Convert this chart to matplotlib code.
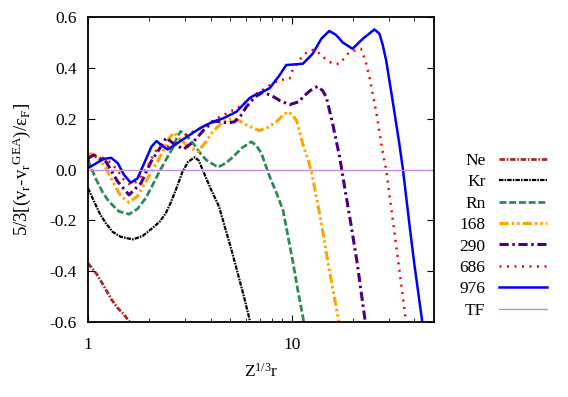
import matplotlib
matplotlib.use("Agg")
import matplotlib.pyplot as plt
import numpy as np

plt.rcParams["font.family"] = ["Liberation Serif", "DejaVu Serif"]
plt.rcParams["mathtext.fontset"] = "custom"
plt.rcParams["mathtext.rm"] = "Liberation Serif"
plt.rcParams["mathtext.it"] = "Liberation Serif:italic"

# values (x = Z^(1/3) r)
ne_x = [1.0, 1.1, 1.2, 1.3, 1.4, 1.5, 1.62]
ne_y = [-0.369, -0.41, -0.46, -0.51, -0.545, -0.57, -0.605]

kr_x = [1.0, 1.07, 1.14, 1.22, 1.32, 1.45, 1.66, 1.85, 2.07, 2.25, 2.41, 2.55,
        2.7, 2.91, 3.1, 3.34, 3.5, 3.65, 4.0, 4.4, 5.12, 5.83, 6.3]
kr_y = [-0.074, -0.125, -0.172, -0.21, -0.245, -0.265, -0.275, -0.262, -0.231,
        -0.205, -0.172, -0.13, -0.08, -0.009, 0.03, 0.048, 0.035, 0.0, -0.075,
        -0.146, -0.33, -0.50, -0.61]

rn_x = [1.0, 1.09, 1.18, 1.27, 1.42, 1.59, 1.75, 1.92, 2.08, 2.24, 2.42, 2.6,
        2.75, 2.85, 3.0, 3.28, 3.55, 3.81, 4.35, 4.75, 5.16, 5.7, 6.34, 6.7,
        7.1, 7.5, 7.8, 8.4, 9.07, 10.1, 10.7, 11.35, 11.5]
rn_y = [0.037, -0.035, -0.09, -0.127, -0.165, -0.176, -0.155, -0.113, -0.06,
        -0.009, 0.04, 0.083, 0.13, 0.15, 0.14, 0.103, 0.065, 0.037, 0.009,
        0.025, 0.05, 0.085, 0.109, 0.095, 0.064, 0.01, -0.028, -0.09, -0.16,
        -0.356, -0.47, -0.579, -0.61]

z168_x = [1.0, 1.05, 1.12, 1.225, 1.35, 1.45, 1.59, 1.75, 1.92, 2.08, 2.24, 2.5,
          2.65, 2.82, 3.1, 3.47, 3.8, 4.1, 4.6, 5.16, 5.6, 6.0, 6.95, 7.6, 8.42,
          9.1, 9.6, 10.1, 10.6, 11.35, 12.2, 12.6, 13.9, 15.3, 17.0, 17.1]
z168_y = [0.06, 0.062, 0.045, 0.005, -0.06, -0.105, -0.129, -0.105, -0.048,
          0.0, 0.044, 0.123, 0.145, 0.12, 0.09, 0.07, 0.11, 0.149, 0.188, 0.201,
          0.19, 0.175, 0.153, 0.165, 0.188, 0.215, 0.227, 0.215, 0.19, 0.10,
          0.023, -0.02, -0.199, -0.395, -0.592, -0.61]

z290_x = [1.0, 1.07, 1.225, 1.4, 1.59, 1.82, 2.04, 2.28, 2.42, 2.65, 2.95, 3.3,
          3.7, 4.1, 4.5, 4.8, 5.25, 5.6, 6.0, 6.6, 7.22, 8.0, 8.8, 9.76, 10.9,
          11.35, 12.3, 13.4, 14.2, 14.8, 15.9, 17.2, 18.3, 19.5, 21.0, 22.8,
          23.1]
z290_y = [0.045, 0.057, 0.031, -0.048, -0.10, -0.054, 0.031, 0.09, 0.125, 0.10,
          0.08, 0.11, 0.155, 0.188, 0.19, 0.182, 0.188, 0.21, 0.247, 0.285,
          0.304, 0.29, 0.27, 0.255, 0.267, 0.285, 0.31, 0.327, 0.31, 0.285,
          0.18, 0.05, -0.08, -0.21, -0.37, -0.579, -0.61]

z686_x = [1.0, 1.1, 1.2, 1.3, 1.4, 1.5, 1.62, 1.75, 1.88, 2.0, 2.12, 2.25, 2.5,
          2.75, 3.05, 3.41, 3.8, 4.27, 4.97, 5.5, 6.0, 6.6, 7.2, 7.9, 8.74, 9.76,
          10.1, 10.9, 11.6, 12.5, 13.2, 14.2, 15.9, 17.2, 19.2, 21.9, 23.0,
          24.1, 26.1, 27.9, 29.1, 32.5, 36.2, 36.5]
z686_y = [0.035, 0.05, 0.045, 0.025, -0.005, -0.04, -0.061, -0.045, -0.01,
          0.025, 0.065, 0.095, 0.09, 0.10, 0.14, 0.153, 0.175, 0.20, 0.227,
          0.245, 0.267, 0.295, 0.313, 0.335, 0.352, 0.357, 0.39, 0.43, 0.455,
          0.471, 0.469, 0.443, 0.416, 0.416, 0.462, 0.475, 0.43, 0.364, 0.22,
          0.075, 0.0, -0.29, -0.579, -0.61]

z976_x = [1.0, 1.1, 1.2, 1.3, 1.4, 1.5, 1.62, 1.75, 1.9, 2.05, 2.17, 2.3, 2.46,
          2.65, 2.82, 3.16, 3.54, 4.1, 4.6, 5.35, 6.2, 6.45, 7.2, 7.8, 8.74,
          9.4, 9.76, 10.9, 11.35, 12.7, 14.0, 15.3, 16.5, 17.8, 19.9, 22.4,
          25.5, 27.0, 28.0, 29.1, 31.3, 33.8, 35.2, 38.0, 40.0, 43.8]
z976_y = [0.005, 0.025, 0.042, 0.046, 0.025, -0.02, -0.052, -0.035, 0.03, 0.09,
          0.112, 0.095, 0.079, 0.095, 0.11, 0.136, 0.162, 0.188, 0.201, 0.227,
          0.28, 0.289, 0.306, 0.32, 0.372, 0.411, 0.412, 0.415, 0.416, 0.456,
          0.515, 0.545, 0.53, 0.50, 0.475, 0.515, 0.551, 0.534, 0.49, 0.43,
          0.272, 0.10, 0.0, -0.226, -0.37, -0.6]

tf_x = [1.0, 50.0]
tf_y = [0.0, 0.0]

fig = plt.figure(figsize=(5.68, 3.97), dpi=100)
ax = fig.add_axes([88 / 568, 75 / 397, 346 / 568, 305 / 397])

ax.plot(ne_x, ne_y, color="#a52a2a", lw=2, ls=(0, (2, 0.6, 0.6, 0.6)), label="Ne")
ax.plot(kr_x, kr_y, color="black", lw=1.6, ls=(0, (2, 0.5, 0.7, 0.5)), label="Kr")
ax.plot(rn_x, rn_y, color="#2e8b57", lw=2, ls=(0, (2.5, 1)), label="Rn")
ax.plot(z168_x, z168_y, color="#ffa500", lw=2.2,
        ls=(0, (3, 1, 0.8, 1, 0.8, 1)), label="168")
ax.plot(z290_x, z290_y, color="#4b0082", lw=2.2, ls=(0, (3, 1.2, 0.8, 1.2)),
        label="290")
ax.plot(z686_x, z686_y, color="red", lw=1.8, ls=(0, (0.8, 2.2)), label="686")
ax.plot(z976_x, z976_y, color="blue", lw=1.8, label="976")
ax.plot(tf_x, tf_y, color="#c090e0", lw=1.0, label="TF")

ax.set_xscale("log")
ax.set_xlim(1, 50)
ax.set_ylim(-0.6, 0.6)
ax.set_yticks(np.arange(-0.6, 0.61, 0.2))
ax.set_yticklabels(["-0.6", "-0.4", "-0.2", "0.0", "0.2", "0.4", "0.6"])
ax.set_xticks([1, 10])
ax.set_xticklabels(["1", "10"])

for s in ax.spines.values():
    s.set_linewidth(1.3)
ax.tick_params(which="both", direction="in", top=True, right=True,
               labelsize=12.5)
ax.tick_params(axis="y", pad=8)
ax.tick_params(axis="x", pad=11)
ax.tick_params(which="major", length=5)
ax.tick_params(which="minor", length=3)

ax.set_xlabel(r"Z$^{\rm 1/3}$r", fontsize=12.5, labelpad=7)
ax.set_ylabel(r"5/3[(v$_{\rm r}$-v$_{\rm r}$$^{\rm GEA}$)/ε$_{\rm F}$]",
              fontsize=13.5, labelpad=12)

ax.legend(loc="upper right", bbox_to_anchor=(554 / 568, 251 / 397),
          bbox_transform=fig.transFigure, frameon=False,
          markerfirst=False, fontsize=12.5, handlelength=2.75,
          labelspacing=0.3, handletextpad=0.8, borderaxespad=0)

fig.savefig("out.png", dpi=100)
